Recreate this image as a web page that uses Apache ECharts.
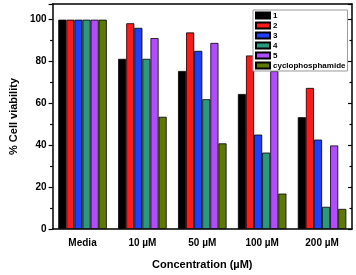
<!DOCTYPE html>
<html><head><meta charset="utf-8">
<script src="https://cdn.jsdelivr.net/npm/echarts@6/dist/echarts.min.js"></script>
<style>html,body{margin:0;padding:0;background:#fff}#c{width:356px;height:275px}</style>
</head><body><div id="c"></div>
<script>
const categories = ['Media', '10 µM', '50 µM', '100 µM', '200 µM'];
const seriesNames = ['1', '2', '3', '4', '5', 'cyclophosphamide'];
const s1 = [100, 81.3, 75.5, 64.5, 53.4];
const s2 = [100, 98.3, 93.9, 82.9, 67.4];
const s3 = [100, 96.1, 85.1, 45.1, 42.7];
const s4 = [100, 81.3, 62.0, 36.5, 10.6];
const s5 = [100, 91.2, 88.9, 75.4, 39.9];
const s6 = [100, 53.6, 40.9, 16.9, 9.6];
const yTicks = [0, 20, 40, 60, 80, 100];
const colors = ['#000000', '#ff1a1a', '#1f3fff', '#2a9a7e', '#b24dff', '#5c7a00'];
const values = [s1, s2, s3, s4, s5, s6];

const font = 'Liberation Sans, Arial, sans-serif';
const chart = echarts.init(document.getElementById('c'));
chart.setOption({
  animation: false,
  textStyle: { fontFamily: font },
  grid: { left: 42, right: 4, top: 4, bottom: 42.5 },
  legend: {
    orient: 'vertical', left: 253, top: 10,
    itemWidth: 14, itemHeight: 6, itemGap: 1,
    padding: [1, 2, 1, 2],
    borderColor: '#999', borderWidth: 1,
    backgroundColor: '#fff',
    icon: 'rect',
    textStyle: { fontSize: 8, lineHeight: 9, fontWeight: 'bold', color: '#000', fontFamily: font, padding: [0, 0, 0, -2] },
    data: seriesNames
  },
  xAxis: [
    { type: 'category', data: categories, position: 'bottom',
      axisLine: { lineStyle: { color: '#000', width: 1.5 } },
      axisTick: { alignWithLabel: true, length: 4, lineStyle: { color: '#000', width: 1.2 } },
      axisLabel: { fontSize: 10, fontWeight: 'bold', color: '#000', margin: 9 },
      name: 'Concentration (µM)', nameLocation: 'middle', nameGap: 30,
      nameTextStyle: { fontSize: 11, fontWeight: 'bold', color: '#000' } },
    { type: 'category', data: categories, position: 'bottom',
      axisLine: { show: false },
      axisTick: { length: 2, lineStyle: { color: '#000', width: 1.2 } },
      axisLabel: { show: false } },
    { type: 'category', data: categories, position: 'top',
      axisLine: { lineStyle: { color: '#000', width: 1.5 } },
      axisTick: { alignWithLabel: true, inside: true, length: 4, lineStyle: { color: '#000', width: 1.2 } },
      axisLabel: { show: false } },
    { type: 'category', data: categories, position: 'top',
      axisLine: { show: false },
      axisTick: { inside: true, length: 2, lineStyle: { color: '#000', width: 1.2 } },
      axisLabel: { show: false } }
  ],
  yAxis: [
    { type: 'value', min: 0, max: 107.5, interval: 20, position: 'left',
      axisLine: { show: true, lineStyle: { color: '#000', width: 1.5 } },
      axisTick: { show: true, length: 4, lineStyle: { color: '#000', width: 1.2 } },
      minorTick: { show: true, splitNumber: 2, length: 2.5, lineStyle: { color: '#000', width: 1.2 } },
      splitLine: { show: false },
      axisLabel: { fontSize: 10, fontWeight: 'bold', color: '#000', margin: 6, showMaxLabel: false,
        formatter: v => yTicks.includes(v) ? String(v) : '' },
      name: '% Cell viability', nameLocation: 'middle', nameGap: 27, nameRotate: 90,
      nameTextStyle: { fontSize: 11, fontWeight: 'bold', color: '#000' } },
    { type: 'value', min: 0, max: 107.5, interval: 20, position: 'right',
      axisLine: { show: true, lineStyle: { color: '#000', width: 1.5 } },
      axisTick: { show: true, inside: true, length: 4, lineStyle: { color: '#000', width: 1.2 } },
      minorTick: { show: true, splitNumber: 2, length: 2.5, lineStyle: { color: '#000', width: 1.2 } },
      splitLine: { show: false },
      axisLabel: { show: false } }
  ],
  series: values.map((v, i) => ({
    name: seriesNames[i], type: 'bar', data: v,
    xAxisIndex: 0, yAxisIndex: 0,
    barGap: '0%', barCategoryGap: '19%',
    itemStyle: { color: colors[i], borderColor: '#000', borderWidth: 0.8 }
  }))
});
</script></body></html>
